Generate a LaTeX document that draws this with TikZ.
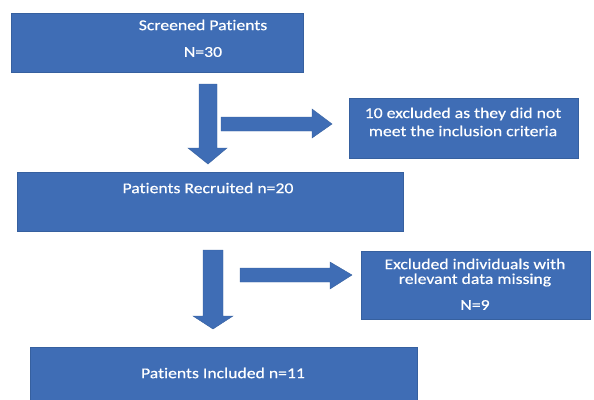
\documentclass[tikz,border=0pt]{standalone}
\usepackage{fontspec}
\setmainfont[FakeStretch=1.18,FakeBold=0.4,RawFeature=-liga]{Carlito}
\definecolor{boxblue}{HTML}{3F6DB5}
\definecolor{edgeblue}{HTML}{36609F}
\begin{document}
\begin{tikzpicture}[x=1pt,y=-1pt,
  box/.style={fill=boxblue,draw=edgeblue,line width=0.6pt},
  txt/.style={text=white,font=\fontsize{15}{17}\selectfont,inner sep=0pt,anchor=center},
  blockarrow/.style={fill=boxblue,draw=edgeblue,line width=0.4pt}]
\useasboundingbox (0,0) rectangle (594,399);
% boxes
\path[box] (11,13) rectangle (303,72) coordinate (b1);
\path[box] (349,98) rectangle (578,158) coordinate (b2);
\path[box] (17,172) rectangle (403,231) coordinate (b3);
\path[box] (361,251) rectangle (590,319) coordinate (b4);
\path[box] (30,347) rectangle (417,405) coordinate (b5);
% texts
\node[txt] (t1a) at (203,25) {Screened Patients};
\node[txt] (t1b) at (203,52) {N=30};
\node[txt] (t2a) at (463,114) {10 excluded as they did not};
\node[txt] (t2b) at (463,131) {meet the inclusion criteria};
\node[txt] (t3) at (208,188) {Patients Recruited n=20};
\node[txt] (t4a) at (475,264) {Excluded individuals with};
\node[txt] (t4b) at (475,280) {relevant data missing};
\node[txt] (t4c) at (475,305) {N=9};
\node[txt] (t5) at (223,373) {Patients Included n=11};
% block arrows
\path[blockarrow] (199,84) -- (217,84) -- (217,148) -- (227,148) -- (208,164) -- (188,148) -- (199,148) -- cycle;
\path[blockarrow] (221,117) -- (312,117) -- (312,109) -- (332,124) -- (312,138) -- (312,131) -- (221,131) -- cycle;
\path[blockarrow] (203,250) -- (223,250) -- (223,316) -- (233,316) -- (213,329) -- (193,316) -- (203,316) -- cycle;
\path[blockarrow] (240,268) -- (330,268) -- (330,262) -- (352,275) -- (330,289) -- (330,282) -- (240,282) -- cycle;
\end{tikzpicture}
\end{document}
